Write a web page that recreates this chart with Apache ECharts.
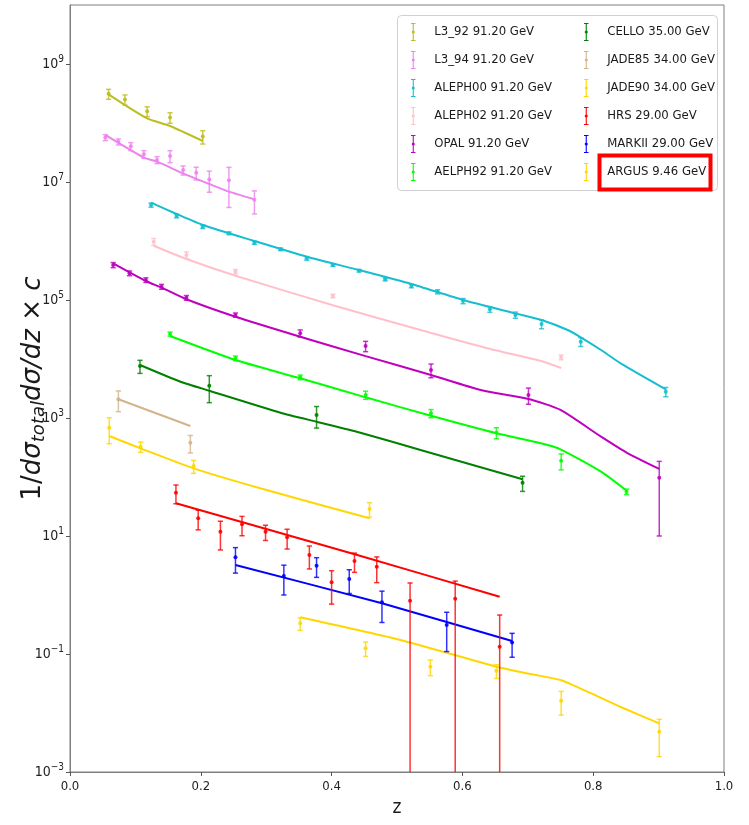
<!DOCTYPE html>
<html><head><meta charset="utf-8">
<script src="https://cdn.jsdelivr.net/npm/echarts@6/dist/echarts.min.js"></script>
<style>html,body{margin:0;padding:0;background:#fff}#c{width:749px;height:825px}</style>
</head><body><div id="c"></div>
<script>
// ---- data (z, value, symmetric error; fit curve z / y) ----
const L3_92_Z = [0.059, 0.084, 0.118, 0.153, 0.203];
const L3_92_V = [3.12e8, 2.5e8, 1.58e8, 1.24e8, 5.9e7];
const L3_92_E = [6.0e7, 4.9e7, 3.0e7, 2.5e7, 1.5e7];
const L3_92_FZ = [0.059, 0.084, 0.118, 0.153, 0.203];
const L3_92_FY = [3.06e8, 2.02e8, 1.20e8, 8.9e7, 4.95e7];

const L3_94_Z = [0.054, 0.074, 0.093, 0.113, 0.133, 0.153, 0.173, 0.193, 0.213, 0.243, 0.282];
const L3_94_V = [5.68e7, 4.8e7, 4.02e7, 2.96e7, 2.37e7, 2.76e7, 1.59e7, 1.43e7, 1.1e7, 1.07e7, 4.98e6];
const L3_94_E = [6.6e6, 5.6e6, 6.2e6, 4.4e6, 3.2e6, 6.4e6, 2.8e6, 3.5e6, 4.3e6, 7.0e6, 2.1e6];
const L3_94_FZ = [0.054, 0.112, 0.133, 0.173, 0.213, 0.243, 0.282];
const L3_94_FY = [6.27e7, 2.62e7, 2.21e7, 1.40e7, 9.25e6, 6.86e6, 5.09e6];

const ALEPH00_Z = [0.124, 0.163, 0.203, 0.243, 0.282, 0.322, 0.362, 0.402, 0.442, 0.482, 0.522, 0.562, 0.601, 0.642, 0.681, 0.721, 0.781, 0.911];
const ALEPH00_V = [4.07e6, 2.66e6, 1.75e6, 1.35e6, 9.36e5, 7.23e5, 5.09e5, 3.92e5, 3.14e5, 2.24e5, 1.73e5, 1.38e5, 9.62e4, 6.95e4, 5.57e4, 3.92e4, 1.96e4, 2.79e3];
const ALEPH00_E = [3.3e5, 1.9e5, 1.2e5, 7e4, 5.6e4, 3.6e4, 3.6e4, 2e4, 1.6e4, 1.3e4, 1.2e4, 1.1e4, 9.6e3, 7.6e3, 6.7e3, 6.7e3, 3.3e3, 5e2];
const ALEPH00_FZ = [0.124, 0.163, 0.203, 0.282, 0.362, 0.442, 0.522, 0.601, 0.681, 0.721, 0.761, 0.781, 0.812, 0.842, 0.911];
const ALEPH00_FY = [4.46e6, 2.87e6, 1.87e6, 1.0e6, 5.42e5, 3.22e5, 1.87e5, 1.0e5, 5.94e4, 4.58e4, 3.10e4, 2.33e4, 1.42e4, 8.45e3, 3.06e3];

const ALEPH02_Z = [0.128, 0.178, 0.253, 0.402, 0.751];
const ALEPH02_V = [9.73e5, 5.79e5, 3.02e5, 1.17e5, 1.07e4];
const ALEPH02_E = [1.3e5, 7.5e4, 2.7e4, 8e3, 1e3];
const ALEPH02_FZ = [0.128, 0.178, 0.253, 0.402, 0.536, 0.638, 0.720, 0.751];
const ALEPH02_FY = [8.32e5, 4.95e5, 2.58e5, 8.13e4, 3.10e4, 1.52e4, 9.25e3, 7.03e3];

const OPAL_Z = [0.066, 0.091, 0.116, 0.140, 0.178, 0.253, 0.352, 0.452, 0.552, 0.701, 0.901];
const OPAL_V = [3.92e5, 2.84e5, 2.18e5, 1.68e5, 1.09e5, 5.57e4, 2.73e4, 1.66e4, 6.51e3, 2.46e3, 97];
const OPAL_E = [3.9e4, 2.6e4, 2.0e4, 1.6e4, 1.0e4, 4.5e3, 3.8e3, 3.3e3, 1.7e3, 750, 87];
const OPAL_FZ = [0.066, 0.116, 0.140, 0.178, 0.253, 0.352, 0.452, 0.552, 0.628, 0.701, 0.750, 0.812, 0.853, 0.901];
const OPAL_FY = [4.19e5, 2.10e5, 1.62e5, 1.03e5, 5.21e4, 2.39e4, 1.12e4, 5.36e3, 2.98e3, 2.10e3, 1.37e3, 482, 252, 137];

const AELPH92_Z = [0.153, 0.253, 0.352, 0.452, 0.552, 0.652, 0.751, 0.851];
const AELPH92_V = [2.65e4, 1.03e4, 4.90e3, 2.46e3, 1.20e3, 564, 189, 56.4];
const AELPH92_E = [2.1e3, 930, 440, 390, 190, 120, 57, 6];
const AELPH92_FZ = [0.153, 0.253, 0.352, 0.452, 0.552, 0.652, 0.720, 0.750, 0.812, 0.851];
const AELPH92_FY = [2.45e4, 9.62e3, 4.71e3, 2.24e3, 1.09e3, 551, 373, 295, 123, 58.6];

const CELLO_Z = [0.107, 0.213, 0.377, 0.692];
const CELLO_V = [7.6e3, 3.52e3, 1.12e3, 80];
const CELLO_E = [1.9e3, 1.7e3, 445, 23];
const CELLO_FZ = [0.107, 0.169, 0.213, 0.322, 0.377, 0.444, 0.536, 0.692];
const CELLO_FY = [7.91e3, 4.12e3, 2.90e3, 1.23e3, 865, 564, 287, 91.4];

const JADE85_Z = [0.074, 0.184];
const JADE85_V = [2.08e3, 381];
const JADE85_E = [800, 125];
const JADE85_FZ = [0.074, 0.184];
const JADE85_FY = [2.08e3, 731];

const JADE90_Z = [0.060, 0.108, 0.189, 0.458];
const JADE90_V = [686, 327, 153, 28.7];
const JADE90_E = [320, 64, 38, 8];
const JADE90_FZ = [0.060, 0.108, 0.189, 0.291, 0.458];
const JADE90_FY = [496, 306, 140, 64.3, 20.0];

const HRS_Z = [0.162, 0.196, 0.230, 0.263, 0.299, 0.332, 0.366, 0.400, 0.435, 0.469, 0.520, 0.589, 0.657];
const HRS_V = [54.2, 20.0, 11.8, 15.8, 11.8, 9.51, 4.76, 1.64, 3.77, 3.02, 0.80, 0.86, 0.133];
const HRS_E = [19, 7.3, 6.0, 5.7, 3.4, 3.5, 2.0, 0.94, 1.35, 1.4, 0.80, 0.86, 0.325];
const HRS_FZ = [0.162, 0.434, 0.657];
const HRS_FY = [35.8, 4.95, 0.935];

const MARKII_Z = [0.253, 0.327, 0.377, 0.427, 0.477, 0.576, 0.676];
const MARKII_V = [4.35, 2.10, 3.14, 1.87, 0.752, 0.310, 0.156];
const MARKII_E = [2.0, 1.1, 1.15, 0.81, 0.41, 0.20, 0.068];
const MARKII_FZ = [0.253, 0.477, 0.676];
const MARKII_FY = [3.22, 0.723, 0.166];

const ARGUS_Z = [0.352, 0.452, 0.551, 0.652, 0.751, 0.901];
const ARGUS_V = [0.331, 0.125, 0.061, 0.0521, 0.0162, 0.00482];
const ARGUS_E = [0.079, 0.034, 0.018, 0.0136, 0.0070, 0.0030];
const ARGUS_FZ = [0.352, 0.505, 0.652, 0.704, 0.750, 0.791, 0.842, 0.901];
const ARGUS_FY = [0.419, 0.173, 0.061, 0.0458, 0.0362, 0.0230, 0.01265, 0.00668];

const X_TICKS_MIN = 0, X_TICKS_MAX = 1, X_TICK_STEP = 0.2;
const Y_MIN = 1e-3, Y_MAX = 1e10;

const SETS = [
  {name: 'L3_92 91.20 GeV',   color: '#bcbd22', z: L3_92_Z,   v: L3_92_V,   e: L3_92_E,   fz: L3_92_FZ,   fy: L3_92_FY},
  {name: 'L3_94 91.20 GeV',   color: '#ee82ee', z: L3_94_Z,   v: L3_94_V,   e: L3_94_E,   fz: L3_94_FZ,   fy: L3_94_FY},
  {name: 'ALEPH00 91.20 GeV', color: '#17becf', z: ALEPH00_Z, v: ALEPH00_V, e: ALEPH00_E, fz: ALEPH00_FZ, fy: ALEPH00_FY},
  {name: 'ALEPH02 91.20 GeV', color: '#ffc0cb', z: ALEPH02_Z, v: ALEPH02_V, e: ALEPH02_E, fz: ALEPH02_FZ, fy: ALEPH02_FY},
  {name: 'OPAL 91.20 GeV',    color: '#bf00bf', z: OPAL_Z,    v: OPAL_V,    e: OPAL_E,    fz: OPAL_FZ,    fy: OPAL_FY},
  {name: 'AELPH92 91.20 GeV', color: '#00ff00', z: AELPH92_Z, v: AELPH92_V, e: AELPH92_E, fz: AELPH92_FZ, fy: AELPH92_FY},
  {name: 'CELLO 35.00 GeV',   color: '#008000', z: CELLO_Z,   v: CELLO_V,   e: CELLO_E,   fz: CELLO_FZ,   fy: CELLO_FY},
  {name: 'JADE85 34.00 GeV',  color: '#d2b48c', z: JADE85_Z,  v: JADE85_V,  e: JADE85_E,  fz: JADE85_FZ,  fy: JADE85_FY},
  {name: 'JADE90 34.00 GeV',  color: '#ffd700', z: JADE90_Z,  v: JADE90_V,  e: JADE90_E,  fz: JADE90_FZ,  fy: JADE90_FY},
  {name: 'HRS 29.00 GeV',     color: '#ff0000', z: HRS_Z,     v: HRS_V,     e: HRS_E,     fz: HRS_FZ,     fy: HRS_FY},
  {name: 'MARKII 29.00 GeV',  color: '#0000ff', z: MARKII_Z,  v: MARKII_V,  e: MARKII_E,  fz: MARKII_FZ,  fy: MARKII_FY},
  {name: 'ARGUS 9.46 GeV',    color: '#ffd700', z: ARGUS_Z,   v: ARGUS_V,   e: ARGUS_E,   fz: ARGUS_FZ,   fy: ARGUS_FY}
];

const FONT = '"DejaVu Sans Condensed", "Liberation Sans Narrow", "DejaVu Sans", sans-serif';
const MATHFONT = '"DejaVu Sans", sans-serif';

function renderErr(params, api) {
  const x = api.value(0), y = api.value(1), lo = api.value(2), hi = api.value(3);
  const p = api.coord([x, y]);
  const pl = api.coord([x, lo]);
  const ph = api.coord([x, hi]);
  const color = api.visual('color');
  const cw = 2.6;
  const st = {stroke: color, lineWidth: 1.5, opacity: 0.8};
  return {type: 'group', children: [
    {type: 'line', shape: {x1: p[0], y1: pl[1], x2: p[0], y2: ph[1]}, style: st},
    {type: 'line', shape: {x1: p[0] - cw, y1: ph[1], x2: p[0] + cw, y2: ph[1]}, style: st},
    {type: 'line', shape: {x1: p[0] - cw, y1: pl[1], x2: p[0] + cw, y2: pl[1]}, style: st},
    {type: 'circle', shape: {cx: p[0], cy: p[1], r: 2}, style: {fill: color, opacity: 0.9}}
  ]};
}

const series = [];
SETS.forEach(s => {
  series.push({
    type: 'line', name: s.name + ' fit', silent: true, symbol: 'none',
    smooth: 0.2,
    data: s.fz.map((z, i) => [z, s.fy[i]]),
    lineStyle: {color: s.color, width: 2}, itemStyle: {color: s.color}, z: 2, animation: false
  });
  series.push({
    type: 'custom', name: s.name, renderItem: renderErr, clip: true,
    data: s.z.map((z, i) => [z, s.v[i], Math.max(s.v[i] - s.e[i], 1e-5), s.v[i] + s.e[i]]),
    encode: {x: 0, y: 1}, itemStyle: {color: s.color}, z: 3, animation: false
  });
});

const ICON = 'path://M0,0H5V1.2H0Z M1.9,0H3.1V20H1.9Z M0,18.8H5V20H0Z M0.8,10A1.7,1.7 0 1,1 4.2,10A1.7,1.7 0 1,1 0.8,10Z';
const legendBase = {
  orient: 'vertical', top: 23, padding: 0, itemWidth: 32, itemHeight: 18, itemGap: 10,
  icon: ICON, selectedMode: false,
  textStyle: {fontSize: 13, fontFamily: FONT, color: '#1a1a1a'}
};

function supLabel(v) {
  const e = Math.round(Math.log10(v));
  if (Math.abs(e % 2) !== 1) return '';
  return '{b|10}{s|' + (e < 0 ? '\u2212' + (-e) : e) + '}';
}

const chart = echarts.init(document.getElementById('c'), null, {renderer: 'canvas'});
chart.setOption({
  backgroundColor: '#ffffff',
  animation: false,
  grid: {left: 70, right: 25, top: 5, bottom: 53, containLabel: false, outerBoundsMode: 'none',
         show: true, borderColor: '#7f7f7f', borderWidth: 1, backgroundColor: 'transparent'},
  xAxis: {
    type: 'value', min: X_TICKS_MIN, max: X_TICKS_MAX, interval: X_TICK_STEP,
    name: 'z', nameLocation: 'middle', nameGap: 27, nameMoveOverlap: false,
    nameTextStyle: {fontSize: 19, fontFamily: FONT, color: '#1a1a1a'},
    axisLine: {show: true, lineStyle: {color: '#7f7f7f', width: 1}},
    axisTick: {show: true, inside: false, length: 4, lineStyle: {color: '#555'}},
    axisLabel: {fontSize: 13, fontFamily: FONT, color: '#222', margin: 8, formatter: v => v.toFixed(1)},
    splitLine: {show: false}
  },
  yAxis: {
    type: 'log', logBase: 10, min: Y_MIN, max: Y_MAX, interval: 2,
    name: '{u|1/}{i|dσ}{s|total}{i|dσ/dz}{u| × }{i|c}', nameLocation: 'middle', nameGap: 22, nameMoveOverlap: false,
    nameTextStyle: {fontSize: 26, fontFamily: MATHFONT, color: '#1a1a1a',
      rich: {
        u: {fontSize: 26, fontFamily: MATHFONT, color: '#1a1a1a'},
        i: {fontSize: 26, fontFamily: MATHFONT, fontStyle: 'italic', color: '#1a1a1a'},
        s: {fontSize: 18, fontFamily: MATHFONT, fontStyle: 'italic', color: '#1a1a1a', padding: [11, 0, 0, 0]}
      }},
    axisLine: {show: true, lineStyle: {color: '#7f7f7f', width: 1}},
    axisTick: {show: true, inside: false, length: 4, lineStyle: {color: '#555'}},
    minorTick: {show: false},
    axisLabel: {showMaxLabel: false, margin: 6, formatter: supLabel,
      rich: {
        b: {fontSize: 14, fontFamily: FONT, color: '#222'},
        s: {fontSize: 10, fontFamily: FONT, color: '#222', padding: [0, 0, 9, 0]}
      }},
    splitLine: {show: false}
  },
  legend: [
    Object.assign({}, legendBase, {left: 411, data: SETS.slice(0, 6).map(s => s.name)}),
    Object.assign({}, legendBase, {left: 584, data: SETS.slice(6).map(s => s.name)})
  ],
  graphic: {elements: [
    {type: 'rect', z: 3, silent: true,
     shape: {x: 397.5, y: 15.5, width: 320, height: 175, r: 4}, style: {fill: '#ffffff', stroke: '#d0d0d0', lineWidth: 1}},
    {type: 'rect', z: 5, silent: true,
     shape: {x: 599.5, y: 155.5, width: 111, height: 34}, style: {fill: 'none', stroke: '#ff0000', lineWidth: 4}}
  ]},
  series: series
});
</script>
</body></html>
